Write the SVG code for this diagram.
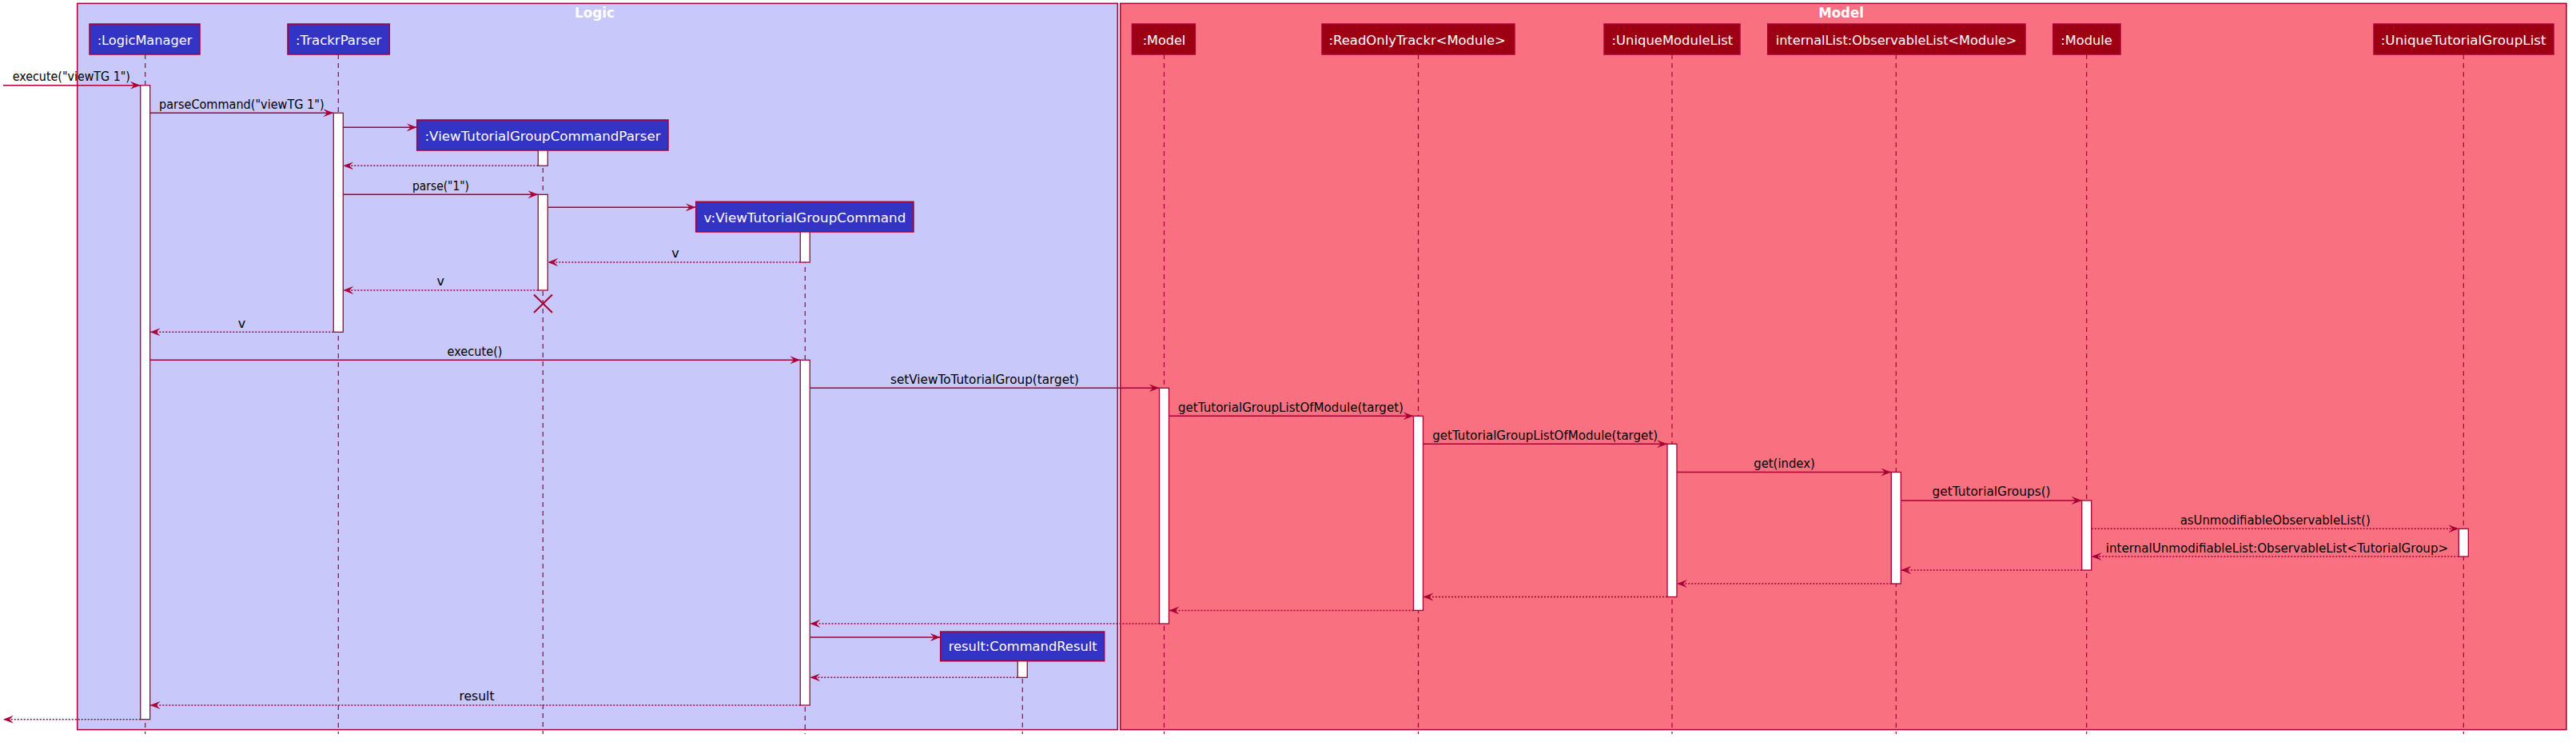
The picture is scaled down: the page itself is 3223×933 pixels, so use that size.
<svg xmlns="http://www.w3.org/2000/svg" width="3223" height="933" viewBox="0 0 3223 933">
<style>
text{font-family:"DejaVu Sans","Liberation Sans",sans-serif;font-size:16px}
.t{fill:#000;text-anchor:middle}
.pt{fill:#fff;text-anchor:middle}
.gt{fill:#fff;text-anchor:middle;font-weight:bold;font-size:17px}
.lp{fill:#3333C4;stroke:#A80036;stroke-width:1.5}
.mp{fill:#9D0012;stroke:#A80036;stroke-width:1.5}
.life{stroke:#A80036;stroke-width:1.2;stroke-dasharray:6,5;fill:none}
.act{fill:#fff;stroke:#A80036;stroke-width:1.3}
.sol{stroke:#A80036;stroke-width:1.5;fill:none;marker-end:url(#ah)}
.dot{stroke:#A80036;stroke-width:1.5;fill:none;stroke-dasharray:2,2;marker-end:url(#ah)}
.x{stroke:#A80036;stroke-width:2}
</style>
<defs>
<marker id="ah" markerUnits="userSpaceOnUse" markerWidth="14" markerHeight="11" refX="13" refY="5" orient="auto">
<polygon points="0,0 13,5 0,10 5,5" fill="#A80036"/>
</marker>
</defs>
<g id="box-logic">
<rect x="96.7" y="4.3" width="1301.6" height="908.3" fill="#C8C8FA" stroke="#A80036" stroke-width="1.5"/>
<text class="gt" x="744" y="21.7" textLength="50" lengthAdjust="spacingAndGlyphs">Logic</text>
</g>
<g id="box-model">
<rect x="1401.7" y="4.3" width="1809.3" height="908.3" fill="#F97181" stroke="#A80036" stroke-width="1.5"/>
<text class="gt" x="2303.5" y="21.7" textLength="56.7" lengthAdjust="spacingAndGlyphs">Model</text>
</g>
<g id="lifelines">
<line class="life" x1="181.7" y1="68" x2="181.7" y2="918"/>
<line class="life" x1="423.3" y1="68" x2="423.3" y2="918"/>
<line class="life" x1="679.3" y1="188" x2="679.3" y2="918"/>
<line class="life" x1="1007.3" y1="290" x2="1007.3" y2="918"/>
<line class="life" x1="1279.3" y1="826.7" x2="1279.3" y2="918"/>
<line class="life" x1="1456.5" y1="68" x2="1456.5" y2="918"/>
<line class="life" x1="1774.5" y1="68" x2="1774.5" y2="918"/>
<line class="life" x1="2092" y1="68" x2="2092" y2="918"/>
<line class="life" x1="2372.3" y1="68" x2="2372.3" y2="918"/>
<line class="life" x1="2610.7" y1="68" x2="2610.7" y2="918"/>
<line class="life" x1="3082.3" y1="68" x2="3082.3" y2="918"/>
</g>
<g id="p-logicmanager">
<rect class="lp" x="112" y="30" width="138" height="38"/>
<text class="pt" x="181" y="55.7" textLength="118.7" lengthAdjust="spacingAndGlyphs">:LogicManager</text>
</g>
<g id="p-trackrparser">
<rect class="lp" x="360" y="30" width="127.3" height="38"/>
<text class="pt" x="423.7" y="55.7" textLength="107.3" lengthAdjust="spacingAndGlyphs">:TrackrParser</text>
</g>
<g id="p-vtgcparser">
<rect class="lp" x="521.7" y="150" width="314.3" height="38"/>
<text class="pt" x="679" y="175.7" textLength="295" lengthAdjust="spacingAndGlyphs">:ViewTutorialGroupCommandParser</text>
</g>
<g id="p-vtgcommand">
<rect class="lp" x="870.7" y="252.3" width="272.3" height="37.7"/>
<text class="pt" x="1006.9" y="277.8" textLength="252.7" lengthAdjust="spacingAndGlyphs">v:ViewTutorialGroupCommand</text>
</g>
<g id="p-commandresult">
<rect class="lp" x="1176.7" y="790" width="205" height="36.7"/>
<text class="pt" x="1279.7" y="814.3" textLength="186" lengthAdjust="spacingAndGlyphs">result:CommandResult</text>
</g>
<g id="p-model">
<rect class="mp" x="1416.4" y="30" width="79" height="38"/>
<text class="pt" x="1456.5" y="55.7" textLength="53.6" lengthAdjust="spacingAndGlyphs">:Model</text>
</g>
<g id="p-readonlytrackr">
<rect class="mp" x="1654" y="30" width="241" height="38"/>
<text class="pt" x="1773.2" y="55.7" textLength="221.3" lengthAdjust="spacingAndGlyphs">:ReadOnlyTrackr&lt;Module&gt;</text>
</g>
<g id="p-uniquemodulelist">
<rect class="mp" x="2007" y="30" width="170" height="38"/>
<text class="pt" x="2092.4" y="55.7" textLength="151.8" lengthAdjust="spacingAndGlyphs">:UniqueModuleList</text>
</g>
<g id="p-internallist">
<rect class="mp" x="2211.7" y="30" width="322.3" height="38"/>
<text class="pt" x="2372.5" y="55.7" textLength="301.7" lengthAdjust="spacingAndGlyphs">internalList:ObservableList&lt;Module&gt;</text>
</g>
<g id="p-module">
<rect class="mp" x="2568.7" y="30" width="84.3" height="38"/>
<text class="pt" x="2610.5" y="55.7" textLength="64.4" lengthAdjust="spacingAndGlyphs">:Module</text>
</g>
<g id="p-uniquetutorialgrouplist">
<rect class="mp" x="2970" y="30" width="225" height="38"/>
<text class="pt" x="3082.2" y="55.7" textLength="207" lengthAdjust="spacingAndGlyphs">:UniqueTutorialGroupList</text>
</g>
<g id="activations">
<rect class="act" x="175.7" y="106.7" width="12" height="793"/>
<rect class="act" x="417.3" y="141.3" width="12" height="274"/>
<rect class="act" x="673.3" y="188" width="12" height="19.3"/>
<rect class="act" x="673.3" y="243.3" width="12" height="119.7"/>
<rect class="act" x="1001.3" y="290" width="12" height="38"/>
<rect class="act" x="1001.3" y="450.3" width="12" height="431.7"/>
<rect class="act" x="1450.5" y="485.3" width="12" height="294.7"/>
<rect class="act" x="1768.5" y="520.3" width="12" height="243.1"/>
<rect class="act" x="2086" y="555.3" width="12" height="191.2"/>
<rect class="act" x="2366.3" y="590.5" width="12" height="139.5"/>
<rect class="act" x="2604.7" y="626" width="12" height="87"/>
<rect class="act" x="3076.3" y="661.3" width="12" height="34.7"/>
<rect class="act" x="1273.3" y="826.7" width="12" height="20.6"/>
</g>
<g id="destroy">
<line class="x" x1="668" y1="368.5" x2="691" y2="391"/>
<line class="x" x1="691" y1="368.5" x2="668" y2="391"/>
</g>
<g id="connectors">
<line class="sol" x1="4" y1="106.7" x2="175.7" y2="106.7"/>
<line class="sol" x1="187.7" y1="141.3" x2="417.3" y2="141.3"/>
<line class="sol" x1="429.3" y1="159.3" x2="521.7" y2="159.3"/>
<line class="dot" x1="673.3" y1="207.3" x2="429.3" y2="207.3"/>
<line class="sol" x1="429.3" y1="243.3" x2="673.3" y2="243.3"/>
<line class="sol" x1="685.3" y1="259.3" x2="870.7" y2="259.3"/>
<line class="dot" x1="1001.3" y1="328" x2="685.3" y2="328"/>
<line class="dot" x1="673.3" y1="363" x2="429.3" y2="363"/>
<line class="dot" x1="417.3" y1="415.3" x2="187.7" y2="415.3"/>
<line class="sol" x1="187.7" y1="450.3" x2="1001.3" y2="450.3"/>
<line class="sol" x1="1013.3" y1="485.3" x2="1450.5" y2="485.3"/>
<line class="sol" x1="1462.5" y1="520.3" x2="1768.5" y2="520.3"/>
<line class="sol" x1="1780.5" y1="555.3" x2="2086" y2="555.3"/>
<line class="sol" x1="2098" y1="590.5" x2="2366.3" y2="590.5"/>
<line class="sol" x1="2378.3" y1="626" x2="2604.7" y2="626"/>
<line class="dot" x1="2616.7" y1="661.3" x2="3076.3" y2="661.3"/>
<line class="dot" x1="3076.3" y1="696" x2="2616.7" y2="696"/>
<line class="dot" x1="2604.7" y1="713" x2="2378.3" y2="713"/>
<line class="dot" x1="2366.3" y1="730" x2="2098" y2="730"/>
<line class="dot" x1="2086" y1="746.5" x2="1780.5" y2="746.5"/>
<line class="dot" x1="1768.5" y1="763.4" x2="1462.5" y2="763.4"/>
<line class="dot" x1="1450.5" y1="780" x2="1013.3" y2="780"/>
<line class="sol" x1="1013.3" y1="797" x2="1176.7" y2="797"/>
<line class="dot" x1="1273.3" y1="847.3" x2="1013.3" y2="847.3"/>
<line class="dot" x1="1001.3" y1="882" x2="187.7" y2="882"/>
<line class="dot" x1="175.7" y1="899.7" x2="4" y2="899.7"/>
</g>
<g id="labels">
<text class="t" x="89.3" y="100.5" textLength="147.3" lengthAdjust="spacingAndGlyphs">execute("viewTG 1")</text>
<text class="t" x="302.3" y="135.8" textLength="206.7" lengthAdjust="spacingAndGlyphs">parseCommand("viewTG 1")</text>
<text class="t" x="551.5" y="237.5" textLength="71" lengthAdjust="spacingAndGlyphs">parse("1")</text>
<text class="t" x="845" y="322">v</text>
<text class="t" x="551.3" y="357">v</text>
<text class="t" x="302.5" y="409.5">v</text>
<text class="t" x="594" y="444.5" textLength="69" lengthAdjust="spacingAndGlyphs">execute()</text>
<text class="t" x="1232" y="479.5" textLength="236" lengthAdjust="spacingAndGlyphs">setViewToTutorialGroup(target)</text>
<text class="t" x="1615" y="514.5" textLength="282" lengthAdjust="spacingAndGlyphs">getTutorialGroupListOfModule(target)</text>
<text class="t" x="1933.2" y="549.5" textLength="282" lengthAdjust="spacingAndGlyphs">getTutorialGroupListOfModule(target)</text>
<text class="t" x="2232.5" y="584.7" textLength="76.4" lengthAdjust="spacingAndGlyphs">get(index)</text>
<text class="t" x="2491.6" y="620.2" textLength="148" lengthAdjust="spacingAndGlyphs">getTutorialGroups()</text>
<text class="t" x="2846.7" y="655.5" textLength="238" lengthAdjust="spacingAndGlyphs">asUnmodifiableObservableList()</text>
<text class="t" x="2849" y="690.5" textLength="428.3" lengthAdjust="spacingAndGlyphs">internalUnmodifiableList:ObservableList&lt;TutorialGroup&gt;</text>
<text class="t" x="596.5" y="876.2" textLength="44" lengthAdjust="spacingAndGlyphs">result</text>
</g>
</svg>
